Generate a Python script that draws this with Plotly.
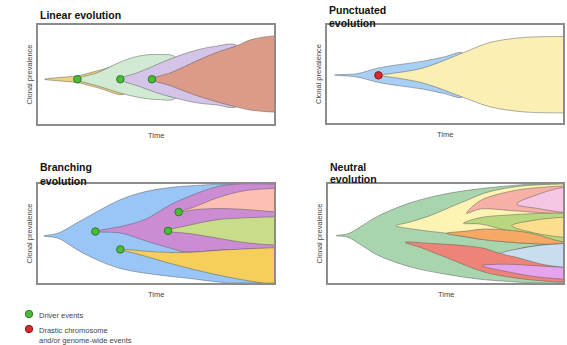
import plotly.graph_objects as go

# ---------------- DATA (time 0-100, prevalence position 0-100) ----------------
# Each clone: t_top, y_top, t_bot, y_bot (tip first)
# Linear evolution
lin_yellow = ([2.8, 9, 16.7, 25.4, 36.7], [45.2, 47, 48.6, 53.8, 58.9],
              [2.8, 9, 16.7, 25.4, 36.7], [45.2, 43.5, 41.8, 36.6, 30.5])
lin_green = ([16.7, 25.4, 34.6, 42.4, 50.8, 58.5], [45.2, 52, 62.3, 68.5, 70.2, 67.0],
             [16.7, 25.4, 34.6, 42.4, 50.8, 58.5], [45.2, 38.4, 31.5, 27, 24.7, 26.5])
lin_purple = ([34.9, 42.4, 48.3, 53.7, 60.7, 67.8, 74.9, 84.7], [45.2, 52, 57.9, 63.4, 69.9, 75, 78.4, 78.6],
              [34.9, 42.4, 48.3, 53.7, 60.7, 67.8, 74.9, 84.7], [45.2, 38.4, 33.2, 29.1, 24.7, 21.2, 19.5, 18.5])
lin_red = ([48.3, 56.5, 65, 74.9, 84.7, 90.4, 100], [45.2, 52, 61.3, 71.6, 79.5, 85.3, 89],
           [48.3, 56.5, 65, 74.9, 84.7, 90.4, 100], [45.2, 38.4, 30.5, 23, 16.8, 14, 12])
lin_driver_t = [16.7, 34.9, 48.3]
lin_driver_y = [45.2, 45.2, 45.2]

# Punctuated evolution
pun_blue = ([3.2, 12.7, 21.8, 31, 40.8, 49.3, 57.7], [49, 50.3, 56.2, 59.7, 63.1, 67.2, 71.0],
            [3.2, 12.7, 21.8, 31, 40.8, 49.3, 57.7], [49, 46.9, 41.4, 37.9, 34.5, 30.3, 27.0])
pun_yellow = ([21.8, 26.8, 40.8, 57.7, 69, 83.1, 100], [48.6, 50.3, 56.2, 71.7, 82.1, 87.2, 88.3],
              [21.8, 26.8, 40.8, 57.7, 69, 83.1, 100], [48.6, 46.9, 40.7, 26.2, 16.6, 11.4, 10.3])
pun_event_t = [21.8]
pun_event_y = [48.6]

# Branching evolution
br_blue = ([2.5, 8.5, 16.9, 25.4, 35.3, 45.2, 56.5, 70.6, 79.1, 100], [47.6, 50.3, 61.3, 72.6, 84.6, 92.1, 96.6, 99, 100, 100],
           [2.5, 8.5, 16.9, 25.4, 35.3, 49.4, 63.6, 77.7, 84.7, 100], [47.6, 45.2, 33.2, 22.9, 14.4, 8.6, 4.8, 0.7, 0, 0])
br_purple = ([24.3, 35.3, 45.2, 56.5, 66.4, 76.3, 84.7, 100], [52, 57.2, 64, 79.5, 89.7, 97.6, 100, 100],
             [24.3, 35.3, 46.6, 56.5, 62.1, 77.7, 100], [52, 50.3, 41.8, 34.9, 31.5, 33.2, 34.9])
br_yellow = ([34.9, 49.4, 62.1, 77.7, 100], [33.9, 31.5, 30.8, 33.2, 35.6],
             [34.9, 42.4, 56.5, 70.6, 84.7, 96, 100], [33.9, 29.1, 19.5, 11, 4.1, 0, 0])
br_pink = ([59.6, 66.4, 76.3, 87.6, 100], [71.6, 77, 86.3, 93.2, 95.5],
           [59.6, 66.4, 76.3, 87.6, 100], [71.6, 74, 75.3, 74.3, 72])
br_green = ([55.1, 65, 76.3, 87.6, 100], [52.7, 58.9, 64, 65.8, 66.8],
            [55.1, 65, 76.3, 87.6, 100], [52.7, 49.7, 45.2, 40.8, 38.4])
br_driver_t = [24.3, 34.9, 59.6, 55.1]
br_driver_y = [52, 33.9, 71.6, 52.7]

# Neutral evolution
neu_green = ([3.5, 8.5, 14.1, 21.2, 35.3, 49.4, 63.6, 77.7, 87.6, 100], [47.9, 49.7, 57.2, 67.5, 81.2, 89.7, 94.9, 98.3, 100, 100],
             [3.5, 8.5, 14.1, 21.2, 35.3, 49.4, 63.6, 77.7, 87.6, 100], [47.9, 46.2, 38.4, 28.1, 16.1, 9.2, 4.1, 1.4, 0, 0])
neu_yellow = ([29, 34, 43.4, 51.9, 60.4, 66.8, 75, 85, 100], [57.9, 61, 68, 76.5, 84.8, 91, 95.5, 98.5, 100],
              [29, 39, 50.5, 59, 66.8, 76, 88, 100], [57.9, 53.5, 50.2, 46.5, 43.8, 41.5, 39.8, 39])
neu_salmon = ([59, 64.7, 78.9, 90, 100], [70.4, 83.1, 93.2, 96.5, 98],
              [59, 64.7, 78.9, 90, 100], [70.4, 74.7, 73, 71, 69.5])
neu_lavender = ([80.3, 90, 100], [79.8, 90, 96.6],
                [80.3, 90, 100], [79.8, 75, 71.4])
neu_lime = ([57.6, 64.7, 78.9, 90, 100], [60.3, 66, 69, 70.2, 70.7],
            [57.6, 64.7, 78.9, 90, 100], [60.3, 59.6, 51.2, 45, 41.5])
neu_gold = ([78.2, 88, 100], [57.9, 63.5, 66.4],
            [78.2, 88, 100], [57.9, 50.5, 46.2])
neu_orange = ([50.5, 59, 66, 76, 86, 100], [50.2, 52.4, 54.5, 53.5, 50.5, 41.5],
              [50.5, 59, 66, 76, 86, 100], [50.2, 46.5, 43.8, 41.5, 39.8, 38.8])
neu_red = ([32.8, 44.8, 59, 66.4, 73.9, 81, 90, 100], [41.1, 39.8, 37.5, 35, 30, 34.5, 38, 39.7],
           [32.8, 39.1, 51.9, 66.8, 80, 92, 100], [41.1, 36.1, 24.2, 10.8, 5, 2, 1])
neu_blue = ([73.9, 81, 90, 100], [30, 34.5, 38, 39.7],
            [73.9, 81, 90, 100], [30, 25.5, 19.5, 15.9])
neu_violet = ([65.4, 75, 88, 100], [17.5, 19, 17.5, 15.9],
              [65.4, 75, 88, 100], [17.5, 12, 6.5, 4])

title_lines = [["Linear evolution"], ["Punctuated", "evolution"], ["Branching", "evolution"], ["Neutral", "evolution"]]
x_label = "Time"
y_label = "Clonal prevalence"
legend_labels = [["Driver events"], ["Drastic chromosome", "and/or genome-wide events"]]

# ---------------- STYLE ----------------
W, H = 567, 345
panels_px = [(38, 274, 25, 124), (327, 563, 25, 123), (38, 274, 184, 283), (328, 563, 184, 283)]
title_y_px = [[15], [10, 23], [167, 180.5], [166.5, 179.5]]
EDGE = dict(color="rgba(85,85,85,0.6)", width=0.8, shape="spline", smoothing=1.0)
GREEN_DOT = dict(size=7.5, color="#4cbb3a", line=dict(color="#2b7a26", width=1))
RED_DOT = dict(size=7.5, color="#d62a2a", line=dict(color="#8a1a1a", width=1))
FONT = "Liberation Sans, Arial, sans-serif"

panel_clones = [
    [(lin_yellow, "#EDD27A"), (lin_green, "#D0EAD3"), (lin_purple, "#D4C4E8"), (lin_red, "#DC9A88")],
    [(pun_blue, "#A8D0F5"), (pun_yellow, "#FCEFB4")],
    [(br_blue, "#99C5F7"), (br_purple, "#CC8CD4"), (br_yellow, "#F6CE5C"), (br_pink, "#FBC0B2"), (br_green, "#C8DC8A")],
    [(neu_green, "#A9D5AE"), (neu_yellow, "#FDF3B3"), (neu_salmon, "#F7B0A6"), (neu_lavender, "#F4C6E4"),
     (neu_lime, "#B9D77E"), (neu_gold, "#FDDE8C"), (neu_orange, "#F5A964"), (neu_red, "#EE8478"),
     (neu_blue, "#C8DDF0"), (neu_violet, "#E6A4EC")],
]
panel_dots = [
    [(lin_driver_t, lin_driver_y, GREEN_DOT)],
    [(pun_event_t, pun_event_y, RED_DOT)],
    [(br_driver_t, br_driver_y, GREEN_DOT)],
    [],
]


def clone_path(clone):
    tt, yt, tb, yb = [list(a) for a in clone]
    if tt[-1] >= 100:
        tt.append(tt[-1] + 3); yt.append(yt[-1])
    if tb[-1] >= 100:
        tb.append(tb[-1] + 3); yb.append(yb[-1])
    return tt + tb[::-1], yt + yb[::-1]


fig = go.Figure()
layout = dict(width=W, height=H, margin=dict(l=0, r=0, t=0, b=0),
              paper_bgcolor="white", plot_bgcolor="white", showlegend=False)
annotations = []
for i, (x0, x1, y0, y1) in enumerate(panels_px):
    n = "" if i == 0 else str(i + 1)
    xa, ya = "x" + n, "y" + n
    layout["xaxis" + n] = dict(domain=[x0 / W, x1 / W], range=[0, 100], anchor=ya,
                               showgrid=False, zeroline=False, showticklabels=False, ticks="",
                               showline=True, mirror=True, linecolor="#8c8c8c", linewidth=1.5, fixedrange=True)
    layout["yaxis" + n] = dict(domain=[1 - y1 / H, 1 - y0 / H], range=[0, 100], anchor=xa,
                               showgrid=False, zeroline=False, showticklabels=False, ticks="",
                               showline=True, mirror=True, linecolor="#8c8c8c", linewidth=1.5, fixedrange=True)
    for clone, col in panel_clones[i]:
        xs, ys = clone_path(clone)
        fig.add_trace(go.Scatter(x=xs, y=ys, mode="lines", fill="toself", fillcolor=col,
                                 line=EDGE, xaxis=xa, yaxis=ya, hoverinfo="skip"))
    for tx, ty, mk in panel_dots[i]:
        fig.add_trace(go.Scatter(x=tx, y=ty, mode="markers", marker=mk, xaxis=xa, yaxis=ya,
                                 hoverinfo="skip", cliponaxis=False))
    # title (one annotation per line)
    for line, ty in zip(title_lines[i], title_y_px[i]):
        annotations.append(dict(text="<b>" + line + "</b>", xref="paper", yref="paper",
                                x=x0 / W, y=1 - ty / H, xanchor="left", yanchor="middle",
                                showarrow=False, font=dict(family=FONT, size=10.5, color="#111")))
    # axis labels
    annotations.append(dict(text=x_label, xref="paper", yref="paper", x=(x0 + x1) / 2 / W,
                            y=1 - (y1 + 11) / H, xanchor="center", yanchor="middle", showarrow=False,
                            font=dict(family=FONT, size=7.5, color="#444")))
    annotations.append(dict(text=y_label, xref="paper", yref="paper", x=(x0 - 9) / W,
                            y=1 - (y0 + y1) / 2 / H, xanchor="center", yanchor="middle", textangle=-90,
                            showarrow=False, font=dict(family=FONT, size=7.5, color="#444")))

# legend
shapes = []
legend_px = [(29, 314, "#4cbb3a", "#2b7a26"), (29, 329, "#d62a2a", "#8a1a1a")]
for (cx, cy, fc, lc), lines in zip(legend_px, legend_labels):
    r = 3.7
    shapes.append(dict(type="circle", xref="paper", yref="paper", x0=(cx - r) / W, x1=(cx + r) / W,
                       y0=1 - (cy + r) / H, y1=1 - (cy - r) / H, fillcolor=fc, line=dict(color=lc, width=1)))
    for k, line in enumerate(lines):
        annotations.append(dict(text=line, xref="paper", yref="paper", x=(cx + 8) / W,
                                y=1 - (cy + 1.5 + 10 * k) / H, xanchor="left", yanchor="middle",
                                showarrow=False, font=dict(family=FONT, size=7.5, color="#444")))

layout["annotations"] = annotations
layout["shapes"] = shapes
fig.update_layout(**layout)
fig.write_html("out.html")
